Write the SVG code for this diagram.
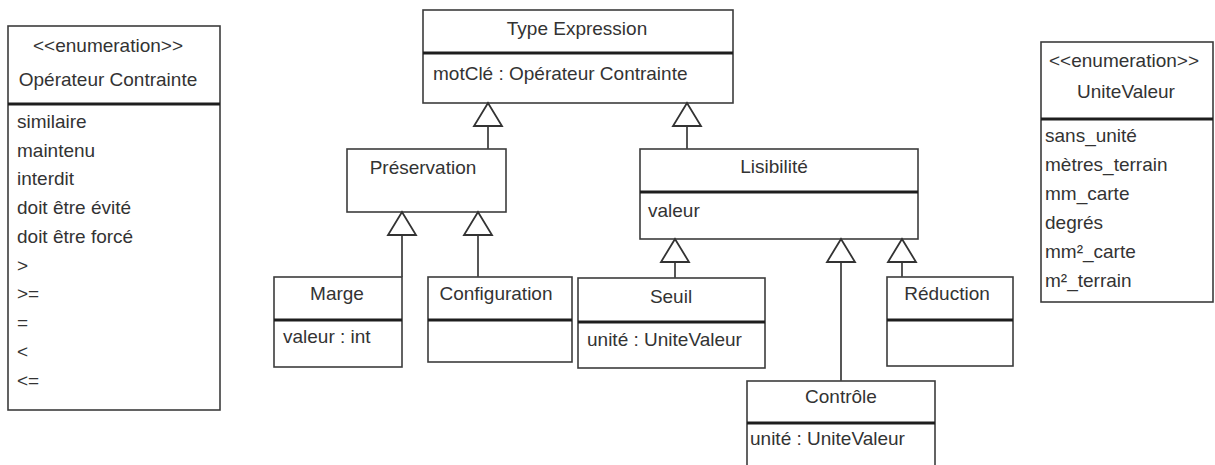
<svg xmlns="http://www.w3.org/2000/svg" width="1215" height="465" viewBox="0 0 1215 465">
<style>
.box{fill:#fff;stroke:#3c3c3c;stroke-width:1.6}
.div{stroke:#1e1e1e;stroke-width:3.2}
.t{font-family:"Liberation Sans",Arial,sans-serif;font-size:19px;fill:#333}
.c{text-anchor:middle}
.ln{stroke:#444;stroke-width:1.8;fill:none}
.tri{fill:#fff;stroke:#333;stroke-width:1.8}
</style>
<rect width="1215" height="465" fill="#fff"/>
<g id="operateur-contrainte">
<rect class="box" x="8" y="26" width="212" height="384"/>
<line class="div" x1="8" y1="104" x2="220" y2="104"/>
<text class="t c" x="108" y="52">&lt;&lt;enumeration&gt;&gt;</text>
<text class="t c" x="108" y="86">Opérateur Contrainte</text>
<text class="t" x="17" y="128">similaire</text>
<text class="t" x="17" y="157">maintenu</text>
<text class="t" x="17" y="185">interdit</text>
<text class="t" x="17" y="214">doit être évité</text>
<text class="t" x="17" y="243">doit être forcé</text>
<text class="t" x="17" y="272">&gt;</text>
<text class="t" x="17" y="300">&gt;=</text>
<text class="t" x="17" y="329">=</text>
<text class="t" x="17" y="358">&lt;</text>
<text class="t" x="17" y="387">&lt;=</text>
</g>
<g id="type-expression">
<rect class="box" x="423" y="10" width="310" height="93"/>
<line class="div" x1="423" y1="53" x2="733" y2="53"/>
<text class="t c" x="577" y="35">Type Expression</text>
<text class="t" x="433" y="80">motClé : Opérateur Contrainte</text>
</g>
<g id="preservation">
<rect class="box" x="347" y="149" width="159" height="63"/>
<text class="t c" x="423" y="174">Préservation</text>
</g>
<g id="lisibilite">
<rect class="box" x="640" y="149" width="278" height="90"/>
<line class="div" x1="640" y1="192" x2="918" y2="192"/>
<text class="t c" x="774" y="173">Lisibilité</text>
<text class="t" x="648" y="217">valeur</text>
</g>
<g id="marge">
<rect class="box" x="274" y="277" width="128" height="90"/>
<line class="div" x1="274" y1="320" x2="402" y2="320"/>
<text class="t c" x="337" y="300">Marge</text>
<text class="t" x="283" y="343">valeur : int</text>
</g>
<g id="configuration">
<rect class="box" x="428" y="277" width="144" height="85"/>
<line class="div" x1="428" y1="320" x2="572" y2="320"/>
<text class="t c" x="496" y="300">Configuration</text>
</g>
<g id="seuil">
<rect class="box" x="578" y="278" width="187" height="90"/>
<line class="div" x1="578" y1="322" x2="765" y2="322"/>
<text class="t c" x="671" y="303">Seuil</text>
<text class="t" x="587" y="346">unité : UniteValeur</text>
</g>
<g id="reduction">
<rect class="box" x="887" y="277" width="126" height="89"/>
<line class="div" x1="887" y1="320" x2="1013" y2="320"/>
<text class="t c" x="947" y="300">Réduction</text>
</g>
<g id="controle">
<rect class="box" x="747" y="381" width="188" height="95"/>
<line class="div" x1="747" y1="423" x2="935" y2="423"/>
<text class="t c" x="841" y="403">Contrôle</text>
<text class="t" x="750" y="445">unité : UniteValeur</text>
</g>
<g id="unite-valeur">
<rect class="box" x="1041" y="42" width="172" height="260"/>
<line class="div" x1="1041" y1="119" x2="1213" y2="119"/>
<text class="t c" x="1124" y="67">&lt;&lt;enumeration&gt;&gt;</text>
<text class="t c" x="1126" y="98">UniteValeur</text>
<text class="t" x="1045" y="142">sans_unité</text>
<text class="t" x="1045" y="171">mètres_terrain</text>
<text class="t" x="1045" y="200">mm_carte</text>
<text class="t" x="1045" y="229">degrés</text>
<text class="t" x="1045" y="258">mm²_carte</text>
<text class="t" x="1045" y="287">m²_terrain</text>
</g>
<g id="connectors">
<line class="ln" x1="488" y1="126" x2="488" y2="149"/>
<polygon class="tri" points="488,103 474,126 502,126"/>
<line class="ln" x1="687" y1="126" x2="687" y2="149"/>
<polygon class="tri" points="687,103 673,126 701,126"/>
<line class="ln" x1="402" y1="235" x2="402" y2="277"/>
<polygon class="tri" points="402,212 388,235 416,235"/>
<line class="ln" x1="478" y1="235" x2="478" y2="277"/>
<polygon class="tri" points="478,212 464,235 492,235"/>
<line class="ln" x1="675" y1="262" x2="675" y2="278"/>
<polygon class="tri" points="675,239 661,262 689,262"/>
<line class="ln" x1="841" y1="262" x2="841" y2="381"/>
<polygon class="tri" points="841,239 827,262 855,262"/>
<line class="ln" x1="902" y1="262" x2="902" y2="277"/>
<polygon class="tri" points="902,239 888,262 916,262"/>
</g>
</svg>
